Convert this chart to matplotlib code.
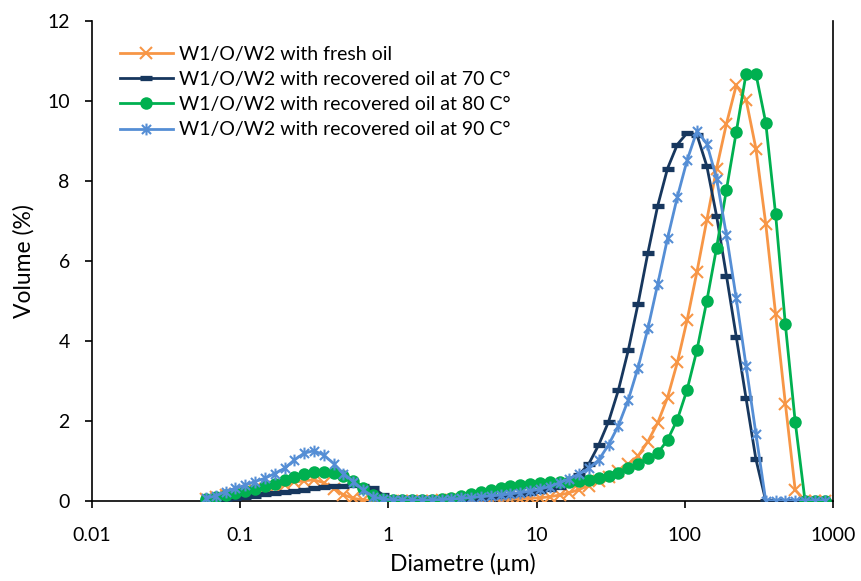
import matplotlib
matplotlib.use('Agg')
import matplotlib.pyplot as plt
from matplotlib.path import Path

# ---------------- data ----------------
sizes = [0.0588, 0.0685, 0.0797, 0.0929, 0.1082, 0.1260, 0.1468, 0.1710,
         0.1992, 0.2320, 0.2703, 0.3148, 0.3667, 0.4272, 0.4975, 0.5796,
         0.6752, 0.7864, 0.9160, 1.067, 1.243, 1.448, 1.686, 1.964,
         2.288, 2.665, 3.105, 3.616, 4.213, 4.906, 5.715, 6.657,
         7.755, 9.033, 10.52, 12.25, 14.28, 16.63, 19.37, 22.56,
         26.28, 30.61, 35.66, 41.54, 48.38, 56.36, 65.66, 76.46,
         89.07, 103.7, 120.8, 140.8, 163.9, 191.0, 222.4, 259.1,
         301.8, 351.6, 409.6, 477.0, 555.7, 647.4, 754.0, 878.4]

fresh = [0.05, 0.10, 0.14, 0.18, 0.22, 0.26, 0.30, 0.35,
         0.40, 0.46, 0.50, 0.52, 0.45, 0.30, 0.15, 0.06,
         0.02, 0.01, 0.00, 0.00, 0.00, 0.00, 0.00, 0.00,
         0.01, 0.01, 0.01, 0.02, 0.02, 0.03, 0.03, 0.04,
         0.05, 0.06, 0.07, 0.10, 0.14, 0.20, 0.28, 0.38,
         0.49, 0.60, 0.74, 0.91, 1.12, 1.48, 1.95, 2.58,
         3.46, 4.52, 5.73, 7.02, 8.31, 9.43, 10.39, 10.03,
         8.81, 6.93, 4.68, 2.43, 0.27, 0.00, 0.00, 0.00]

rec70 = [0.00, 0.02, 0.04, 0.07, 0.10, 0.13, 0.16, 0.19,
         0.22, 0.25, 0.28, 0.31, 0.34, 0.37, 0.38, 0.40,
         0.38, 0.32, 0.15, 0.05, 0.02, 0.01, 0.01, 0.01,
         0.02, 0.03, 0.04, 0.06, 0.08, 0.10, 0.12, 0.14,
         0.17, 0.20, 0.24, 0.29, 0.35, 0.45, 0.65, 0.93,
         1.40, 1.98, 2.77, 3.76, 4.93, 6.20, 7.38, 8.31,
         8.91, 9.20, 9.15, 8.37, 7.12, 5.63, 4.10, 2.56,
         1.04, 0.00, 0.00, 0.00, 0.00, 0.00, 0.00, 0.00]

rec80 = [0.05, 0.10, 0.15, 0.20, 0.25, 0.30, 0.36, 0.43,
         0.52, 0.60, 0.67, 0.71, 0.72, 0.70, 0.63, 0.50,
         0.33, 0.15, 0.05, 0.02, 0.01, 0.01, 0.02, 0.03,
         0.05, 0.08, 0.12, 0.16, 0.21, 0.26, 0.31, 0.36,
         0.40, 0.43, 0.45, 0.46, 0.47, 0.48, 0.50, 0.53,
         0.57, 0.62, 0.70, 0.81, 0.93, 1.06, 1.19, 1.52,
         2.03, 2.78, 3.77, 5.00, 6.33, 7.78, 9.22, 10.68,
         10.68, 9.46, 7.18, 4.41, 1.98, 0.00, 0.00, 0.00]

rec90 = [0.06, 0.12, 0.23, 0.31, 0.39, 0.48, 0.56, 0.68,
         0.81, 1.02, 1.19, 1.25, 1.14, 0.93, 0.68, 0.48,
         0.27, 0.10, 0.04, 0.02, 0.01, 0.01, 0.01, 0.02,
         0.03, 0.04, 0.06, 0.08, 0.10, 0.12, 0.14, 0.17,
         0.20, 0.24, 0.29, 0.35, 0.45, 0.55, 0.67, 0.81,
         1.02, 1.40, 1.88, 2.52, 3.33, 4.31, 5.42, 6.56,
         7.60, 8.52, 9.25, 8.93, 8.06, 6.64, 5.06, 3.37,
         1.68, 0.00, 0.00, 0.00, 0.00, 0.00, 0.00, 0.00]

labels = ['W1/O/W2 with fresh oil',
          'W1/O/W2 with recovered oil at 70 C°',
          'W1/O/W2 with recovered oil at 80 C°',
          'W1/O/W2 with recovered oil at 90 C°']

xticks = [0.01, 0.1, 1, 10, 100, 1000]
xticklabels = ['0.01', '0.1', '1', '10', '100', '1000']
yticks = [0, 2, 4, 6, 8, 10, 12]
yticklabels = ['0', '2', '4', '6', '8', '10', '12']

# ---------------- style ----------------
plt.rcParams['font.family'] = ['Lato', 'DejaVu Sans']
FS = 14

fig = plt.figure(figsize=(8.61, 5.81), dpi=100)
ax = fig.add_axes([92 / 861, 1 - 500.7 / 581, (833 - 92) / 861, (500.7 - 21) / 581])

star = Path([(-1, -1), (1, 1), (-1, 1), (1, -1), (0, -1.3), (0, 1.3)],
            [Path.MOVETO, Path.LINETO, Path.MOVETO, Path.LINETO, Path.MOVETO, Path.LINETO])

ax.plot(sizes, fresh, color='#F79646', lw=2.0, marker='x', markersize=8.5,
        markeredgewidth=1.5, label=labels[0], zorder=3)
ax.plot(sizes, rec70, color='#17375E', lw=2.0, marker='_', markersize=8.5,
        markeredgewidth=3.8, label=labels[1], zorder=4)
ax.plot(sizes, rec80, color='#00B050', lw=2.0, marker='o', markersize=9,
        markeredgewidth=0, label=labels[2], zorder=5)
ax.plot(sizes, rec90, color='#558ED5', lw=2.0, marker=star, markersize=8.5,
        markeredgewidth=1.5, fillstyle='none', label=labels[3], zorder=6)

ax.set_xscale('log')
ax.set_xlim(0.01, 1000)
ax.set_ylim(0, 12)
ax.set_xticks(xticks)
ax.set_xticklabels(xticklabels)
ax.xaxis.set_minor_locator(plt.NullLocator())
ax.set_yticks(yticks)
ax.set_yticklabels(yticklabels)
ax.tick_params(axis='both', direction='out', length=5, width=1.2, labelsize=FS,
               colors='black')
ax.tick_params(axis='y', pad=11)
ax.tick_params(axis='x', pad=14)

for s in ['left', 'bottom', 'right']:
    ax.spines[s].set_linewidth(1.2)
    ax.spines[s].set_color('black')
ax.spines['top'].set_visible(False)

ax.set_xlabel('Diametre (µm)', fontsize=16.5, labelpad=6)
ax.set_ylabel('Volume (%)', fontsize=16.5, labelpad=9)

leg = ax.legend(loc='upper left', bbox_to_anchor=(0.038, 0.948), frameon=False,
                fontsize=FS, handlelength=2.7, handletextpad=0.35,
                labelspacing=0.42, borderpad=0, borderaxespad=0)

fig.savefig('out.png', dpi=100)
